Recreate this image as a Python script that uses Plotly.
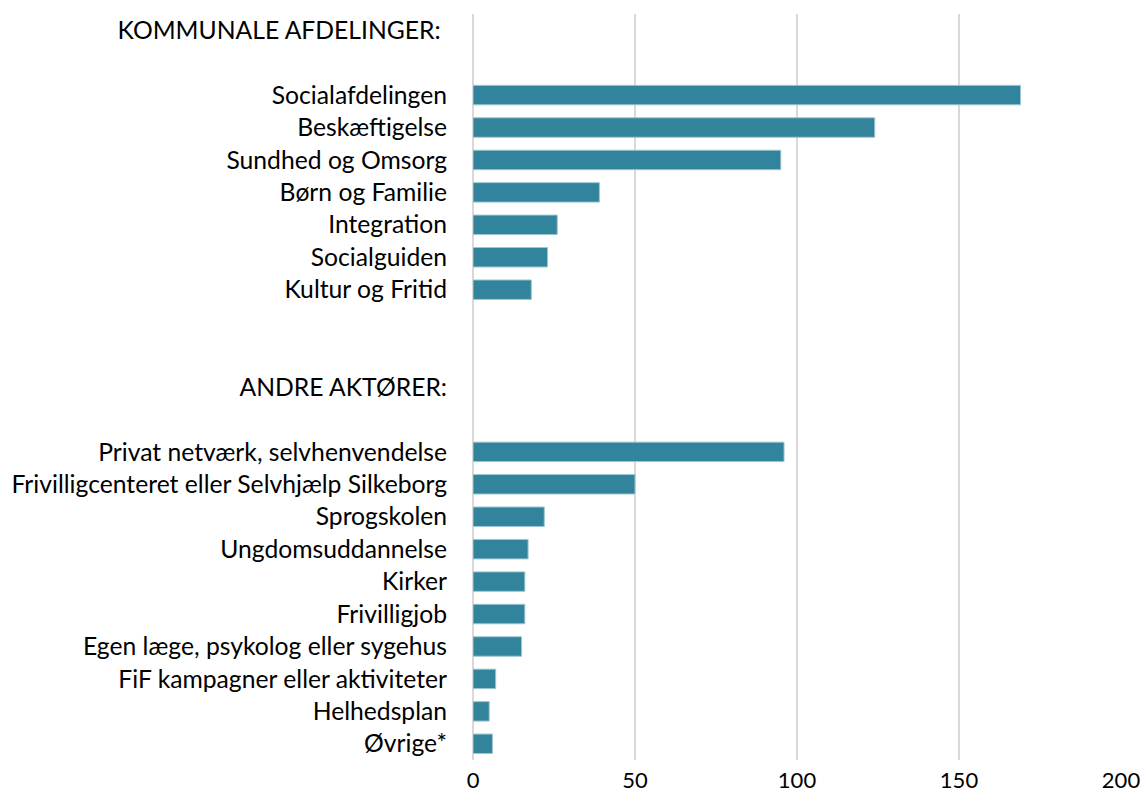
import plotly.graph_objects as go

categories = [
    "KOMMUNALE AFDELINGER:", "blank1",
    "Socialafdelingen", "Beskæftigelse", "Sundhed og Omsorg", "Børn og Familie",
    "Integration", "Socialguiden", "Kultur og Fritid",
    "blank2", "blank3",
    "ANDRE AKTØRER:", "blank4",
    "Privat netværk, selvhenvendelse", "Frivilligcenteret eller Selvhjælp Silkeborg",
    "Sprogskolen", "Ungdomsuddannelse", "Kirker", "Frivilligjob",
    "Egen læge, psykolog eller sygehus", "FiF kampagner eller aktiviteter",
    "Helhedsplan", "Øvrige*",
]
values = [
    None, None,
    169, 124, 95, 39, 26, 23, 18,
    None, None,
    None, None,
    96, 50, 22, 17, 16, 16, 15, 7, 5, 6,
]
x_ticks = [0, 50, 100, 150, 200]

shown = [c for c in categories if not c.startswith("blank")]
shown_text = [c + "\u00a0" if c.startswith("KOMMUNALE") else c for c in shown]

fig = go.Figure(go.Bar(
    x=values, y=categories, orientation="h",
    marker=dict(color="#31849B", line=dict(color="#9CC6D3", width=1)),
    width=0.6, hoverinfo="x+y",
))

fig.update_layout(
    width=1142, height=800,
    margin=dict(l=473, r=21, t=14, b=40),
    paper_bgcolor="white", plot_bgcolor="white",
    font=dict(family="Lato, Carlito, Calibri, sans-serif", size=24, color="#000000"),
    showlegend=False,
)
fig.update_xaxes(
    range=[0, 200], tickvals=x_ticks, showgrid=True, gridcolor="#D9D9D9", gridwidth=2,
    zeroline=True, zerolinecolor="#D9D9D9", zerolinewidth=2, showline=False,
    ticks="", tickfont=dict(size=22), ticklabelstandoff=5,
    automargin=False, ticklabeloverflow="allow",
)
fig.update_yaxes(
    categoryorder="array", categoryarray=categories, autorange="reversed",
    tickmode="array", tickvals=shown, ticktext=shown_text,
    showgrid=False, ticks="outside", ticklen=20, tickcolor="rgba(0,0,0,0)",
    tickfont=dict(size=24.7), showline=False, automargin=False,
)

fig.write_html("out.html")
